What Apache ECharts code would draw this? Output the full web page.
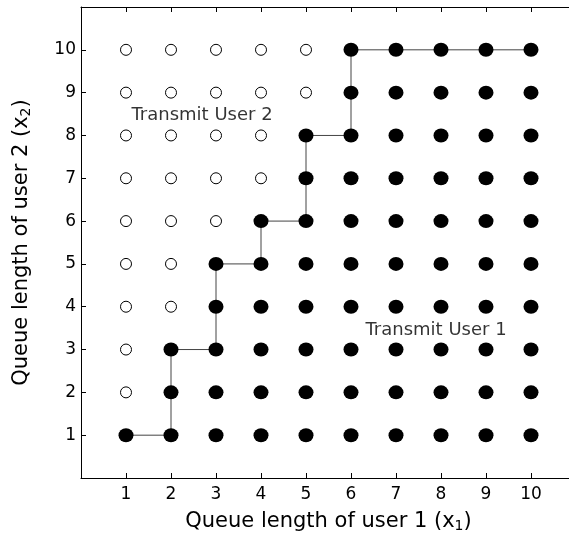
<!DOCTYPE html>
<html>
<head>
<meta charset="utf-8">
<script src="https://cdn.jsdelivr.net/npm/echarts@6/dist/echarts.min.js"></script>
<style>
html,body{margin:0;padding:0;background:#fff;overflow:hidden;width:569px;height:537px;}
#c{width:569px;height:537px;}
</style>
</head>
<body>
<div id="c"></div>
<script>
// Queue lengths along each axis
const queueX = [1,2,3,4,5,6,7,8,9,10];
const queueY = [1,2,3,4,5,6,7,8,9,10];
// For each x1 column: highest x2 at which User 1 is transmitted (filled dots)
const boundary = [1,3,5,6,8,10,10,10,10,10];
// Staircase policy boundary line
const stairX = [1,2,2,3,3,4,4,5,5,6,6,10];
const stairY = [1,1,3,3,5,5,6,6,8,8,10,10];
const tickLabels = ['1','2','3','4','5','6','7','8','9','10'];
const regionNames = ['Transmit User 2','Transmit User 1'];
const regionPos = [[2.69,8.48],[7.89,3.45]];

const filled = [], open = [];
queueX.forEach((x,i)=>{
  queueY.forEach(y=>{
    if (y <= boundary[i]) filled.push([x,y]); else open.push([x,y]);
  });
});

const FONT = '"DejaVu Sans", Arial, sans-serif';
const chart = echarts.init(document.getElementById('c'), null, {renderer:'canvas'});
const lab = v => (v>=1 && v<=10) ? tickLabels[v-1] : '';
const baseAxis = () => ({
  type:'value', min:0, max:11, interval:1,
  axisLine:{show:true, onZero:false, lineStyle:{color:'#000', width:1}},
  axisTick:{show:true, inside:true, length:5, lineStyle:{color:'#000', width:1}},
  splitLine:{show:false},
});
const subRich = {sub:{fontFamily:FONT, fontSize:14, color:'#000', verticalAlign:'bottom', padding:[9,0,0,0]}};
chart.setOption({
  animation:false,
  grid:{left:81, top:7, right:-7, bottom:59, containLabel:false, outerBoundsMode:'none'},
  xAxis:[
    Object.assign(baseAxis(), {
      position:'bottom',
      axisLabel:{formatter:lab, color:'#000', fontFamily:FONT, fontSize:17, margin:8},
      name:'Queue length of user 1 (x{sub|1})', nameLocation:'middle', nameGap:32,
      nameTextStyle:{color:'#000', fontFamily:FONT, fontSize:21, rich:subRich}
    }),
    Object.assign(baseAxis(), {position:'top', axisLabel:{show:false}})
  ],
  yAxis:[
    Object.assign(baseAxis(), {
      position:'left',
      axisLabel:{formatter:lab, color:'#000', fontFamily:FONT, fontSize:17, margin:5},
      name:'Queue length of user 2 (x{sub|2})', nameLocation:'middle', nameGap:48, nameRotate:90,
      nameTextStyle:{color:'#000', fontFamily:FONT, fontSize:21, rich:subRich}
    })
  ],
  series:[
    {type:'line', data:stairX.map((x,i)=>[x,stairY[i]]), symbol:'none',
     lineStyle:{color:'#444', width:1}, z:1, silent:true},
    {type:'scatter', data:open, symbol:'circle', symbolSize:11,
     itemStyle:{color:'#fff', borderColor:'#000', borderWidth:1, opacity:1}, z:2, silent:true},
    {type:'scatter', data:filled, symbol:'circle', symbolSize:[15,14],
     itemStyle:{color:'#000', opacity:1}, z:3, silent:true},
    {type:'scatter', symbolSize:0, z:4, silent:true,
     data:regionNames.map((n,i)=>({name:n, value:regionPos[i]})),
     label:{show:true, position:'inside', formatter:'{b}', color:'#000', textBorderWidth:0,
            fontFamily:FONT, fontSize:18}}
  ]
});
</script>
</body>
</html>
